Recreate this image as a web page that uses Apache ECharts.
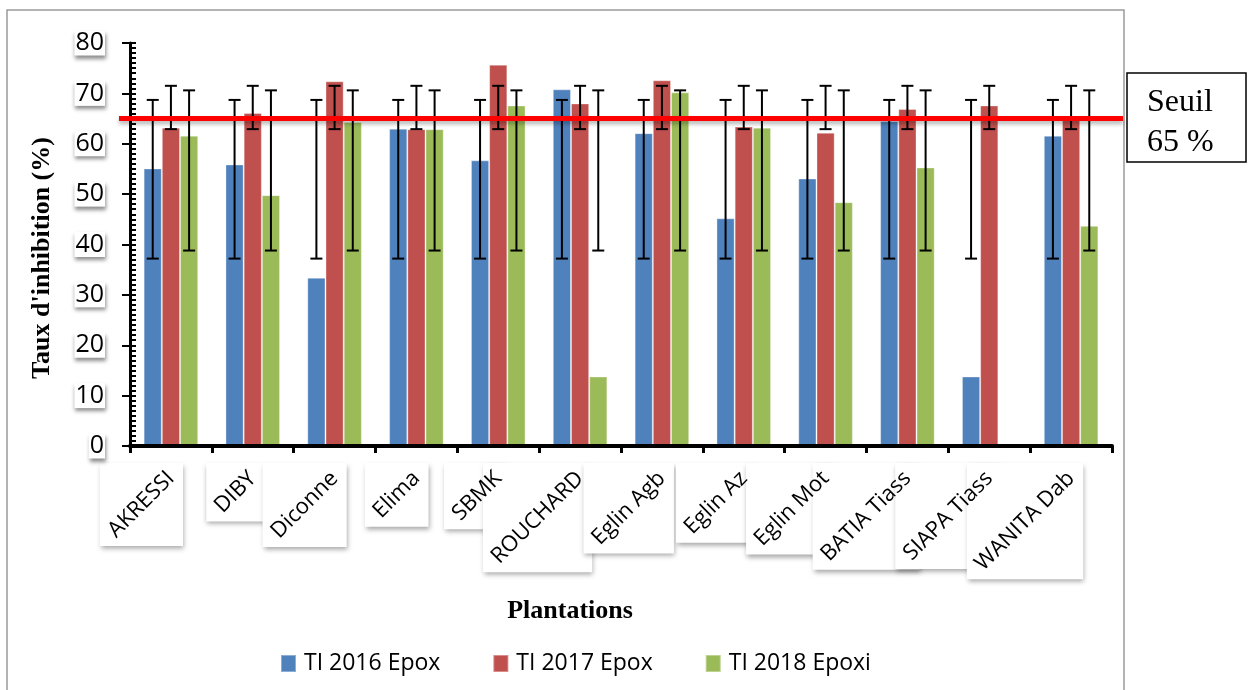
<!DOCTYPE html>
<html>
<head>
<meta charset="utf-8">
<script src="https://cdn.jsdelivr.net/npm/echarts@6/dist/echarts.min.js"></script>
<style>
  html, body { margin: 0; padding: 0; background: #fff; }
  #chart { width: 1251px; height: 690px; }
</style>
</head>
<body>
<div id="chart"></div>
<script>
// Plantations and inhibition rates (%) per campaign
const plantations = ['AKRESSI', 'DIBY', 'Diconne', 'Elima', 'SBMK', 'ROUCHARD',
  'Eglin Agb', 'Eglin Az', 'Eglin Mot', 'BATIA Tiass', 'SIAPA Tiass', 'WANITA Dab'];
const seriesNames = ['TI 2016 Epox', 'TI 2017 Epox', 'TI 2018 Epoxi'];
const ti2016 = [55.1, 55.9, 33.4, 63.0, 56.7, 70.8, 62.1, 45.2, 53.1, 64.5, 13.8, 61.6];
const ti2017 = [63.2, 66.1, 72.4, 62.9, 75.7, 68.0, 72.6, 63.4, 62.2, 66.9, 67.6, 65.6];
const ti2018 = [61.6, 49.8, 64.3, 62.9, 67.6, 13.8, 70.2, 63.2, 48.4, 55.3, null, 43.7];

// Error bar ranges (low / high) per campaign
const err2016Low  = [37.2, 37.2, 37.2, 37.2, 37.2, 37.2, 37.2, 37.2, 37.2, 37.2, 37.2, 37.2];
const err2016High = [68.7, 68.7, 68.7, 68.7, 68.7, 68.7, 68.7, 68.7, 68.7, 68.7, 68.7, 68.7];
const err2017Low  = [62.9, 62.9, 62.9, 62.9, 62.9, 62.9, 62.9, 62.9, 62.9, 62.9, 62.9, 62.9];
const err2017High = [71.5, 71.5, 71.5, 71.5, 71.5, 71.5, 71.5, 71.5, 71.5, 71.5, 71.5, 71.5];
const err2018Low  = [38.8, 38.8, 38.8, 38.8, 38.8, 38.8, 38.8, 38.8, 38.8, 38.8, null, 38.8];
const err2018High = [70.6, 70.6, 70.6, 70.6, 70.6, 70.6, 70.6, 70.6, 70.6, 70.6, null, 70.6];

// Threshold
const seuil = 65;
const seuilText = ['Seuil', '65 %'];

const colors = ['#4F81BD', '#C0504D', '#9BBB59'];
const SANS = '"Open Sans", "Noto Sans", sans-serif';
const SERIF = '"Liberation Serif", "Times New Roman", serif';
const CAT_FONT = 22;
const CAT_MARGIN = 29;
const BAR_SHARE = 2 / 9; // one bar of three with a 150% gap

const measureCtx = document.createElement('canvas').getContext('2d');
measureCtx.font = CAT_FONT + 'px ' + SANS;

const chart = echarts.init(document.getElementById('chart'), null, { renderer: 'canvas' });

function errorSeries(name, k, lows, highs) {
  return {
    type: 'custom',
    name: name,
    xAxisIndex: 0, yAxisIndex: 0,
    z: 4,
    silent: true,
    data: lows.map((lo, i) => (lo == null ? [i, null, null] : [i, lo, highs[i]])),
    encode: { x: 0, y: [1, 2] },
    renderItem: function (params, api) {
      const lo = api.value(1), hi = api.value(2);
      if (lo == null || isNaN(lo)) return null;
      const i = api.value(0);
      const cw = api.size([1, 0])[0];
      const off = (k - 1) * cw * BAR_SHARE;
      const pLo = api.coord([i, lo]);
      const pHi = api.coord([i, hi]);
      const x = pLo[0] + off;
      const cap = 6;
      const st = { stroke: '#000', lineWidth: 2 };
      return {
        type: 'group',
        children: [
          { type: 'line', shape: { x1: x, y1: pLo[1], x2: x, y2: pHi[1] }, style: st },
          { type: 'line', shape: { x1: x - cap, y1: pLo[1], x2: x + cap, y2: pLo[1] }, style: st },
          { type: 'line', shape: { x1: x - cap, y1: pHi[1], x2: x + cap, y2: pHi[1] }, style: st }
        ]
      };
    }
  };
}

function barSeries(name, k, values) {
  return {
    type: 'bar',
    name: name,
    xAxisIndex: 0, yAxisIndex: 0,
    data: values,
    barGap: '0%',
    barCategoryGap: '33.3%',
    itemStyle: { color: colors[k], borderColor: 'rgba(255,255,255,0.35)', borderWidth: 1 },
    z: 2
  };
}

const option = {
  animation: false,
  backgroundColor: '#fff',
  grid: [
    { left: 130, right: 139, top: 43, bottom: 244 },
    { left: 119, right: 128, top: 43, bottom: 244 }
  ],
  legend: {
    data: seriesNames,
    left: 275,
    top: 647,
    icon: 'rect',
    itemWidth: 15,
    itemHeight: 17,
    itemGap: 52,
    selectedMode: false,
    textStyle: { fontFamily: SANS, fontSize: 23, color: '#000', padding: [0, 0, 0, 3] }
  },
  xAxis: [
    {
      type: 'category',
      gridIndex: 0,
      data: plantations,
      z: 3,
      axisLine: { show: true, lineStyle: { color: '#000', width: 4 } },
      axisTick: { show: true, length: 7, lineStyle: { color: '#000', width: 3 } },
      axisLabel: {
        interval: 0, rotate: 45, margin: CAT_MARGIN,
        fontFamily: SANS, fontSize: CAT_FONT, color: '#000'
      },
      splitLine: { show: false }
    },
    { type: 'value', gridIndex: 1, min: 0, max: 1, show: false }
  ],
  yAxis: [
    {
      type: 'value', gridIndex: 0, min: 0, max: 80, interval: 10,
      z: 3,
      axisLine: { show: true, lineStyle: { color: '#000', width: 3 } },
      axisTick: { show: true, length: 8, lineStyle: { color: '#000', width: 2 } },
      splitLine: { show: false },
      axisLabel: {
        fontFamily: SANS, fontSize: 25, color: '#000', margin: 25,
        backgroundColor: '#fff', padding: [0, 1],
        shadowColor: 'rgba(0,0,0,0.45)', shadowBlur: 4, shadowOffsetX: 1, shadowOffsetY: 3
      }
    },
    {
      type: 'value', gridIndex: 0, min: 0, max: 80, interval: 1, position: 'left',
      z: 3,
      axisLine: { show: false },
      axisTick: { show: true, inside: true, length: 6, lineStyle: { color: '#000', width: 2 } },
      axisLabel: { show: false },
      splitLine: { show: false }
    },
    { type: 'value', gridIndex: 1, min: 0, max: 80, show: false }
  ],
  series: [
    barSeries(seriesNames[0], 0, ti2016),
    barSeries(seriesNames[1], 1, ti2017),
    barSeries(seriesNames[2], 2, ti2018),
    errorSeries('err2016', 0, err2016Low, err2016High),
    errorSeries('err2017', 1, err2017Low, err2017High),
    errorSeries('err2018', 2, err2018Low, err2018High),
    {
      // white boxes behind the rotated plantation names
      type: 'custom',
      name: 'labelBoxes',
      xAxisIndex: 0, yAxisIndex: 0,
      z: 1,
      silent: true,
      data: plantations.map((_, i) => [i, 0]),
      renderItem: function (params, api) {
        const i = api.value(0);
        const p = api.coord([i, 0]);
        const ax = p[0], ay = p[1] + CAT_MARGIN;
        const w = measureCtx.measureText(plantations[i]).width;
        const h = CAT_FONT * 1.3;
        const c = Math.SQRT1_2;
        const pad = 2;
        const x0 = ax - (w + h / 2) * c - pad;
        const x1 = ax + (h / 2) * c + pad;
        const y0 = ay - (h / 2) * c - pad;
        const y1 = ay + (w + h / 2) * c + pad;
        return {
          type: 'rect',
          shape: { x: x0, y: y0, width: x1 - x0, height: y1 - y0 },
          style: {
            fill: '#fff',
            shadowBlur: 5, shadowColor: 'rgba(0,0,0,0.35)', shadowOffsetX: 1, shadowOffsetY: 3
          }
        };
      }
    },
    {
      // threshold line
      type: 'line',
      name: 'seuil',
      xAxisIndex: 1, yAxisIndex: 2,
      data: [[0, seuil], [1, seuil]],
      symbol: 'none',
      silent: true,
      z: 5,
      lineStyle: {
        color: '#FF0000', width: 5,
        shadowColor: 'rgba(0,0,0,0.3)', shadowBlur: 4, shadowOffsetY: 3
      }
    }
  ],
  graphic: [
    {
      type: 'rect', z: 0, silent: true,
      shape: { x: 7, y: 10, width: 1117, height: 700 },
      style: { fill: 'none', stroke: '#9a9a9a', lineWidth: 1.5 }
    },
    {
      type: 'text', silent: true,
      x: 42, y: 258, rotation: Math.PI / 2,
      style: {
        text: "Taux d'inhibition (%)", font: 'bold 26px ' + SERIF, fill: '#000',
        textAlign: 'center', textVerticalAlign: 'middle', align: 'center', verticalAlign: 'middle'
      }
    },
    {
      type: 'text', silent: true,
      x: 570, y: 611,
      style: {
        text: 'Plantations', font: 'bold 26px ' + SERIF, fill: '#000',
        textAlign: 'center', textVerticalAlign: 'middle', align: 'center', verticalAlign: 'middle'
      }
    },
    {
      type: 'rect', silent: true,
      shape: { x: 1127, y: 73, width: 119, height: 89 },
      style: { fill: '#fff', stroke: '#000', lineWidth: 1.5 }
    },
    {
      type: 'text', silent: true,
      x: 1147, y: 103,
      style: {
        text: seuilText[0], font: '32px ' + SERIF, fill: '#000',
        textAlign: 'left', textVerticalAlign: 'middle', align: 'left', verticalAlign: 'middle'
      }
    },
    {
      type: 'text', silent: true,
      x: 1147, y: 143,
      style: {
        text: seuilText[1], font: '32px ' + SERIF, fill: '#000',
        textAlign: 'left', textVerticalAlign: 'middle', align: 'left', verticalAlign: 'middle'
      }
    }
  ]
};

chart.setOption(option);
</script>
</body>
</html>
